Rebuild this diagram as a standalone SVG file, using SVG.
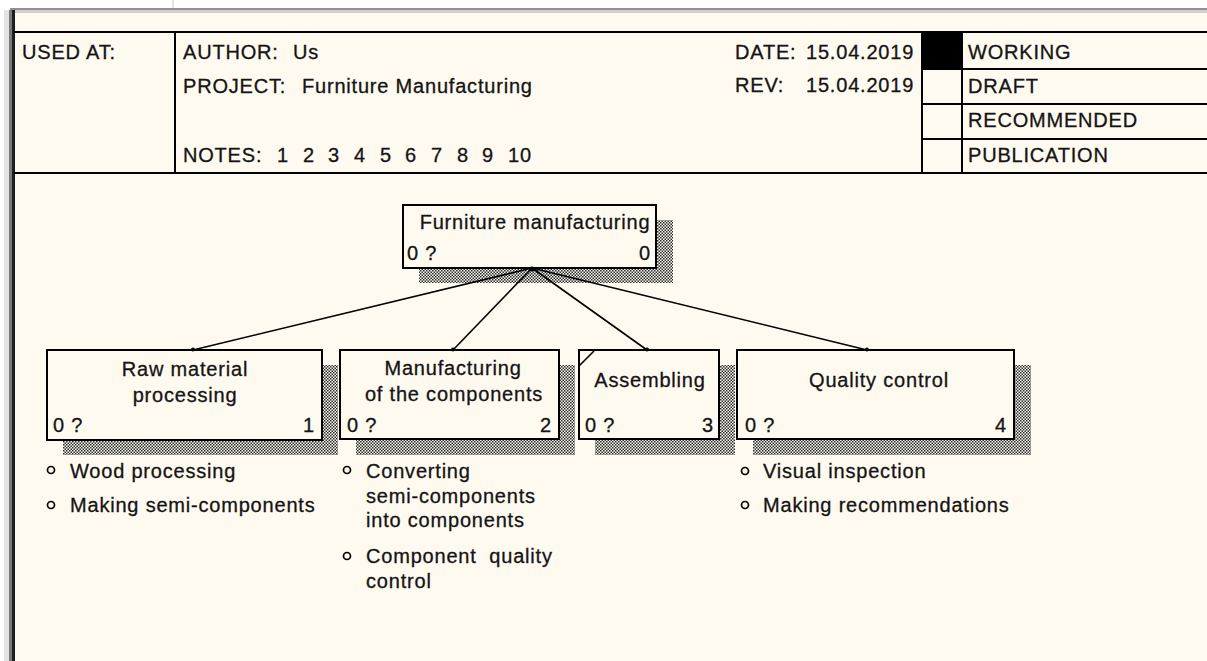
<svg xmlns="http://www.w3.org/2000/svg" width="1207" height="661" viewBox="0 0 1207 661">
<style>
text{font-family:"Liberation Sans",Arial,sans-serif;font-size:20px;letter-spacing:0.8px;fill:#141414;stroke:#141414;stroke-width:0.3px}
.mid{text-anchor:middle}
.end{text-anchor:end}
.ln{stroke:#000;stroke-width:2;fill:none}
.box{fill:#FFFAF0;stroke:#000;stroke-width:2}
.sh{fill:url(#dots)}
.con{stroke:#000;stroke-width:1.6;fill:none}
.bul{fill:none;stroke:#000;stroke-width:1.7}
</style>
<defs>
<pattern id="dots" width="3" height="3" patternUnits="userSpaceOnUse">
<rect width="3" height="3" fill="#FFFAF0"/>
<rect x="0" y="0" width="1.5" height="1.5" fill="#2a2a2a"/>
<rect x="1.5" y="1.5" width="1.5" height="1.5" fill="#2a2a2a"/>
</pattern>
</defs>
<rect width="1207" height="661" fill="#fff"/>
<rect x="15" y="13" width="1192" height="648" fill="#FFFAF0"/>
<rect x="10" y="8" width="1197" height="2" fill="#909090"/>
<rect x="10" y="10" width="1197" height="3" fill="#cfcfcf"/>
<rect x="4" y="10" width="5" height="651" fill="#e3e3e3"/>
<rect x="9" y="10" width="3" height="651" fill="#7a7a7a"/>
<rect x="12" y="10" width="3" height="651" fill="#1e1e1e"/>
<line x1="173" y1="0" x2="173" y2="8" stroke="#c8c8c8" stroke-width="1"/>

<g id="header">
<line class="ln" x1="14" y1="32" x2="1207" y2="32"/>
<line class="ln" x1="14" y1="173" x2="1207" y2="173"/>
<line class="ln" x1="175" y1="32" x2="175" y2="173"/>
<line class="ln" x1="922" y1="32" x2="922" y2="173"/>
<line class="ln" x1="962" y1="32" x2="962" y2="173"/>
<rect x="922" y="32" width="40" height="37" fill="#000"/>
<line class="ln" x1="922" y1="69" x2="1207" y2="69"/>
<line class="ln" x1="922" y1="104" x2="1207" y2="104"/>
<line class="ln" x1="922" y1="139" x2="1207" y2="139"/>
<text x="22" y="59">USED AT:</text>
<text x="183" y="59">AUTHOR:</text>
<text x="293" y="59">Us</text>
<text x="183" y="93">PROJECT:</text>
<text x="302" y="93">Furniture Manufacturing</text>
<text x="183" y="162">NOTES:</text>
<text x="277" y="162">1</text>
<text x="303" y="162">2</text>
<text x="328" y="162">3</text>
<text x="354" y="162">4</text>
<text x="380" y="162">5</text>
<text x="405" y="162">6</text>
<text x="431" y="162">7</text>
<text x="457" y="162">8</text>
<text x="482" y="162">9</text>
<text x="508" y="162">10</text>
<text x="735" y="59">DATE:</text>
<text x="806" y="59">15.04.2019</text>
<text x="735" y="92">REV:</text>
<text x="806" y="92">15.04.2019</text>
<text x="968" y="59">WORKING</text>
<text x="968" y="93">DRAFT</text>
<text x="968" y="127">RECOMMENDED</text>
<text x="968" y="162">PUBLICATION</text>
</g>

<g id="node0">
<rect class="sh" x="419" y="220" width="254" height="63"/>
<rect class="box" x="403" y="205" width="253" height="63"/>
<text class="mid" x="535" y="229">Furniture manufacturing</text>
<text x="407" y="260">0 ?</text>
<text class="end" x="651" y="260">0</text>
</g>

<g id="node1">
<rect class="sh" x="63" y="365" width="275" height="90"/>
<rect class="box" x="47" y="350" width="275" height="90"/>
<text class="mid" x="185" y="376">Raw material</text>
<text class="mid" x="185" y="402">processing</text>
<text x="53" y="432">0 ?</text>
<text class="end" x="315" y="432">1</text>
<circle class="bul" cx="51" cy="470" r="3.5"/>
<text x="70" y="478">Wood processing</text>
<circle class="bul" cx="51" cy="505" r="3.5"/>
<text x="70" y="512">Making semi-components</text>
</g>

<g id="node2">
<rect class="sh" x="356" y="365" width="219" height="90"/>
<rect class="box" x="340" y="350" width="219" height="89"/>
<text class="mid" x="453" y="375">Manufacturing</text>
<text class="mid" x="454" y="401">of the components</text>
<text x="347" y="432">0 ?</text>
<text class="end" x="552" y="432">2</text>
<circle class="bul" cx="347" cy="470" r="3.5"/>
<text x="366" y="478">Converting</text>
<text x="366" y="503">semi-components</text>
<text x="366" y="527">into components</text>
<circle class="bul" cx="347" cy="556" r="3.5"/>
<text x="366" y="563" xml:space="preserve">Component  quality</text>
<text x="366" y="588">control</text>
</g>

<g id="node3">
<rect class="sh" x="595" y="365" width="140" height="90"/>
<rect class="box" x="579" y="350" width="140" height="89"/>
<text class="mid" x="650" y="387">Assembling</text>
<text x="585" y="432">0 ?</text>
<text class="end" x="714" y="432">3</text>
</g>

<g id="node4">
<rect class="sh" x="753" y="365" width="278" height="90"/>
<rect class="box" x="737" y="350" width="277" height="89"/>
<text class="mid" x="879" y="387">Quality control</text>
<text x="745" y="432">0 ?</text>
<text class="end" x="1007" y="432">4</text>
<circle class="bul" cx="745" cy="471" r="3.5"/>
<text x="763" y="478">Visual inspection</text>
<circle class="bul" cx="745" cy="505" r="3.5"/>
<text x="763" y="512">Making recommendations</text>
</g>

<g id="connectors">
<line class="con" x1="532" y1="268" x2="193" y2="350"/>
<line class="con" x1="532" y1="268" x2="453" y2="350"/>
<line class="con" x1="532" y1="268" x2="647" y2="350"/>
<line class="con" x1="532" y1="268" x2="867" y2="350"/>
<line class="con" x1="579" y1="366" x2="594" y2="351"/>
<circle cx="193" cy="349.5" r="2" fill="#000"/>
<circle cx="453" cy="349.5" r="2" fill="#000"/>
<circle cx="647" cy="349.5" r="2" fill="#000"/>
<circle cx="867" cy="349.5" r="2" fill="#000"/>
<circle cx="532" cy="269" r="2.5" fill="#000"/>
</g>
</svg>
